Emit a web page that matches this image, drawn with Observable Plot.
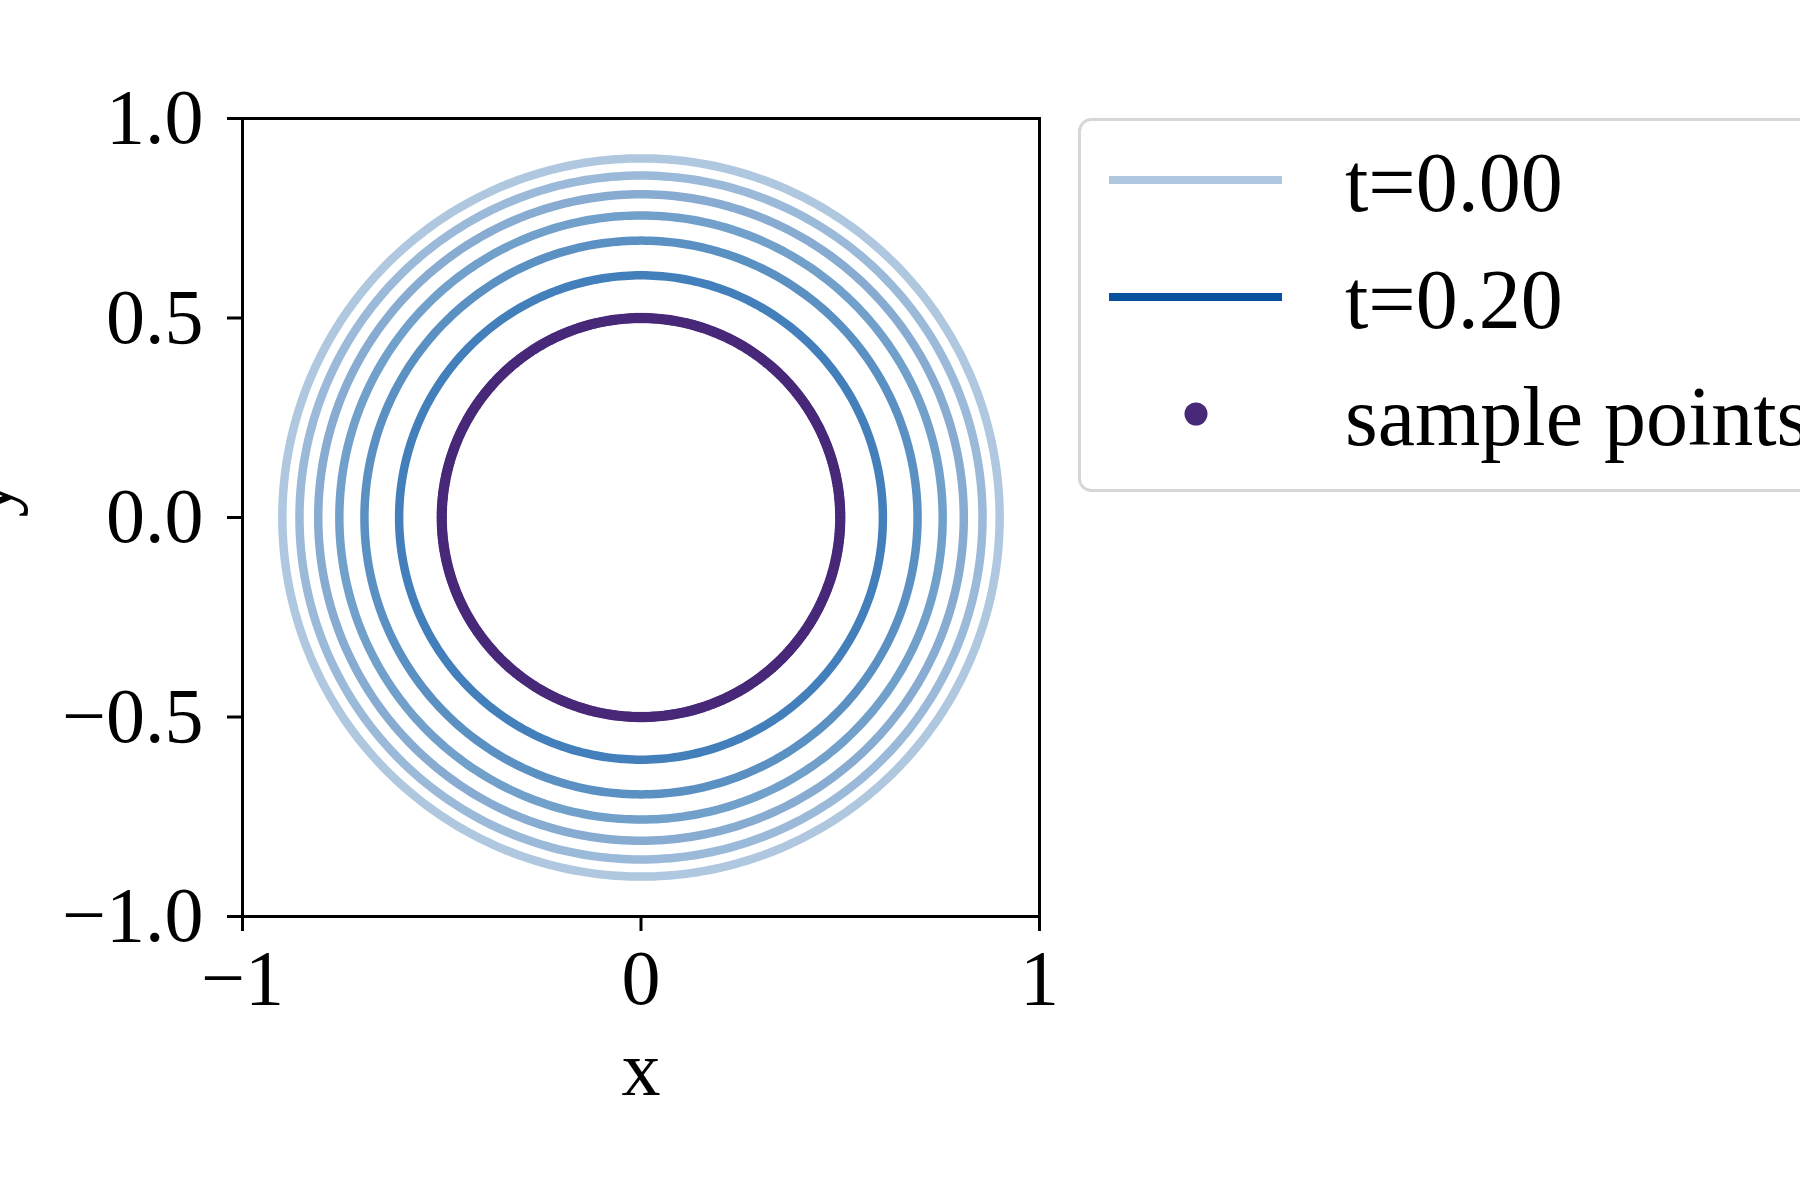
<!DOCTYPE html>
<html><head><meta charset="utf-8">
<script src="https://cdn.jsdelivr.net/npm/d3@7"></script>
<script src="https://cdn.jsdelivr.net/npm/@observablehq/plot@0.6"></script>
<style>
html,body{margin:0;padding:0;background:#fff;overflow:hidden;}
#wrap{position:relative;width:1800px;height:1200px;overflow:hidden;font-family:"Liberation Serif",serif;}
#wrap svg.legend{position:absolute;left:0;top:0;pointer-events:none;}
</style></head><body><div id="wrap"></div>
<script>
// ---- data ----
const times = [0.00, 0.033, 0.067, 0.10, 0.133, 0.167, 0.20];
const radii = [0.900, 0.857, 0.810, 0.757, 0.694, 0.607, 0.500];
const ringColors = ["#afc7df", "#9bb9d8", "#87abd1", "#71a0cb", "#5b90c3", "#427fbb", "#08519c"];
const sampleRadius = 0.5;
const sampleCount = 480;
const sampleColor = "#482878";
const xTicks = [-1, 0, 1];
const yTicks = [-1, -0.5, 0, 0.5, 1];
const legendLabels = ["t=0.00", "t=0.20", "sample points"];

// ---- build tables ----
const seg = 360;
const ringPts = [];
radii.forEach((r, i) => {
  for (let k = 0; k <= seg; k++) {
    const a = 2 * Math.PI * k / seg;
    ringPts.push({t: times[i], x: r * Math.cos(a), y: r * Math.sin(a), color: ringColors[i]});
  }
});
const samples = d3.range(sampleCount).map(k => {
  const a = 2 * Math.PI * k / sampleCount;
  return {x: sampleRadius * Math.cos(a), y: sampleRadius * Math.sin(a)};
});

const chart = Plot.plot({
  width: 1800, height: 1200,
  marginLeft: 242, marginRight: 761, marginTop: 118, marginBottom: 284,
  style: {fontFamily: "Liberation Serif", fontSize: "78px", background: "white", color: "black"},
  x: {domain: [-1, 1], label: null},
  y: {domain: [-1, 1], label: null},
  color: {type: "identity"},
  marks: [
    Plot.line(ringPts, {x: "x", y: "y", z: "t", stroke: "color", strokeWidth: 8.5, curve: "linear"}),
    Plot.dot(samples, {x: "x", y: "y", r: 5.2, fill: sampleColor, stroke: null}),
    Plot.frame({stroke: "black", strokeWidth: 3}),
    Plot.axisX({ticks: xTicks, tickSize: 15, tickPadding: 17, strokeWidth: 3, fontSize: 78, tickFormat: d3.format("d"), label: null}),
    Plot.axisY({ticks: yTicks, tickSize: 15, tickPadding: 24, strokeWidth: 3, fontSize: 78, tickFormat: d3.format(".1f"), label: null}),
    Plot.text(["x"], {frameAnchor: "bottom", text: d => d, dy: 178, lineAnchor: "bottom", fontSize: 78}),
    Plot.text(["y"], {frameAnchor: "left", text: d => d, dx: -232, rotate: -90, lineAnchor: "bottom", fontSize: 78})
  ]
});
const wrap = document.getElementById("wrap");
wrap.appendChild(chart);

// ---- legend ----
const lg = d3.select(wrap).append("svg").attr("class", "legend")
  .attr("width", 1800).attr("height", 1200)
  .style("font-family", "Liberation Serif");
lg.append("rect").attr("x", 1079.5).attr("y", 119.5).attr("width", 900).attr("height", 371)
  .attr("rx", 12).attr("fill", "white").attr("stroke", "#d6d6d6").attr("stroke-width", 3);
const rowY = [180, 297, 414];
lg.append("line").attr("x1", 1109).attr("x2", 1282).attr("y1", rowY[0]).attr("y2", rowY[0])
  .attr("stroke", ringColors[0]).attr("stroke-width", 8);
lg.append("line").attr("x1", 1109).attr("x2", 1282).attr("y1", rowY[1]).attr("y2", rowY[1])
  .attr("stroke", ringColors[ringColors.length - 1]).attr("stroke-width", 8);
lg.append("circle").attr("cx", 1196).attr("cy", rowY[2]).attr("r", 11.5).attr("fill", sampleColor);
legendLabels.forEach((s, i) => {
  lg.append("text").attr("x", 1345).attr("y", rowY[i] + 31).attr("font-size", 84).attr("fill", "black").text(s);
});
</script></body></html>
